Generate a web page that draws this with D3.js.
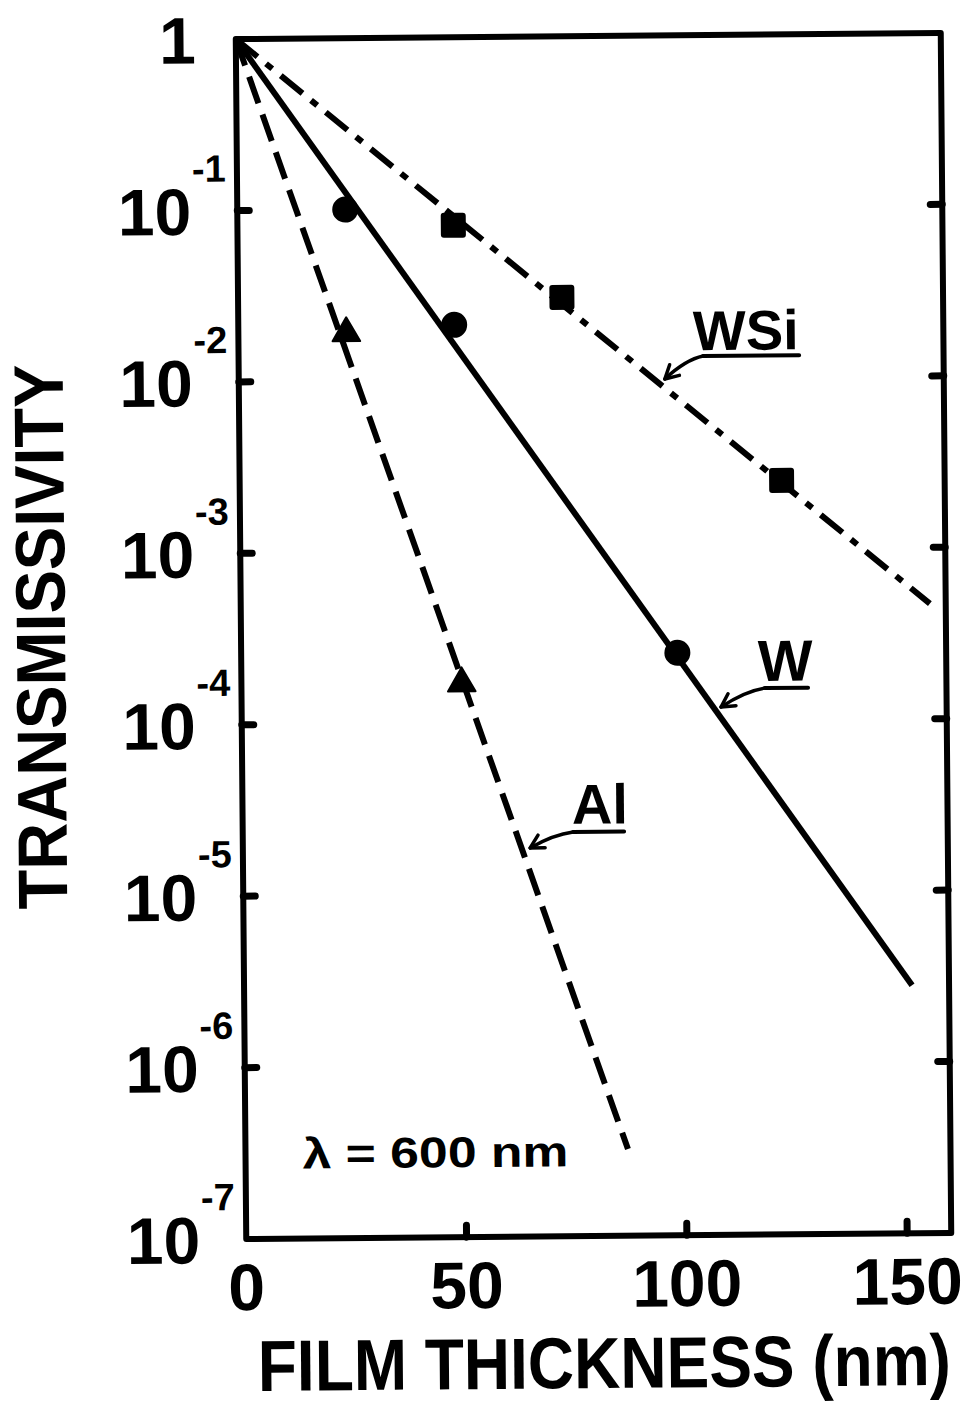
<!DOCTYPE html>
<html lang="en">
<head>
<meta charset="UTF-8">
<title>Transmissivity vs film thickness</title>
<script src="https://d3js.org/d3.v7.min.js"></script>
<style>
  body { margin: 0; background: #fff; }
  svg text { font-family: "Liberation Sans", Arial, sans-serif; font-weight: bold; fill: #000; }
</style>
</head>
<body>
<svg id="chart" width="965" height="1408"></svg>
<script>
// values
const wPoints   = [[24.5, 0.10], [49, 0.021], [99, 2.5e-4]];
const wsiPoints = [[49, 0.080], [73.5, 0.030], [123, 2.5e-3]];
const alPoints  = [[24.5, 0.019], [50, 1.7e-4]];

// fitted lines (start at 1, end where the drawing stops)
const wLine   = [[0, 1], [151.6, 2.8e-6]];
const wsiLine = [[0, 1], [156.4, 4.7e-4]];
const alLine  = [[0, 1], [86.8, 3.2e-7]];

const xTicks = [0, 50, 100, 150];
const xInnerTicks = [50, 100, 150];
const yExponents = [0, -1, -2, -3, -4, -5, -6, -7];

// arrow labels: name, where the arrow points (data units)
const labelNames = ['WSi', 'W', 'Al'];
const labelTipX = [96.7, 108.8, 65.2];
const labelTipY = [9.9e-3, 1.2e-4, 1.85e-5];

const margin = { left: 241, right: 19, top: 36, bottom: 172 };
const width = 965, height = 1408;
const plotW = width - margin.left - margin.right;
const plotH = height - margin.top - margin.bottom;
const STROKE = 6;

const svg = d3.select('#chart');
// the original scan is turned a little, follow it
const root = svg.append('g')
  .attr('transform', `rotate(-0.5, ${margin.left + plotW / 2}, ${margin.top + plotH / 2})`);

const x = d3.scaleLinear().domain([0, 160]).range([margin.left, margin.left + plotW]);
const y = d3.scaleLog().domain([1e-7, 1]).range([margin.top + plotH, margin.top]);

const line = d3.line().x(d => x(d[0])).y(d => y(d[1]));

// frame
root.append('rect')
  .attr('x', x(0)).attr('y', y(1))
  .attr('width', x(160) - x(0)).attr('height', y(1e-7) - y(1))
  .attr('fill', 'none').attr('stroke', '#000')
  .attr('stroke-width', STROKE).attr('stroke-linejoin', 'round');

// inward ticks
const inner = yExponents.filter(e => e < 0 && e > -7);
const tickLen = 12;
root.append('g').selectAll('line')
  .data(inner)
  .enter().append('line')
  .attr('x1', x(0)).attr('x2', x(0) + tickLen)
  .attr('y1', e => y(Math.pow(10, e))).attr('y2', e => y(Math.pow(10, e)))
  .attr('stroke', '#000').attr('stroke-width', 7).attr('stroke-linecap', 'round');
root.append('g').selectAll('line')
  .data(inner)
  .enter().append('line')
  .attr('x1', x(160)).attr('x2', x(160) - tickLen)
  .attr('y1', e => y(Math.pow(10, e))).attr('y2', e => y(Math.pow(10, e)))
  .attr('stroke', '#000').attr('stroke-width', 7).attr('stroke-linecap', 'round');
root.append('g').selectAll('line')
  .data(xInnerTicks)
  .enter().append('line')
  .attr('x1', d => x(d)).attr('x2', d => x(d))
  .attr('y1', y(1e-7)).attr('y2', y(1e-7) - tickLen)
  .attr('stroke', '#000').attr('stroke-width', 7).attr('stroke-linecap', 'round');

// y tick labels (10 with superscript exponent)
const yLab = root.append('g').selectAll('g')
  .data(yExponents)
  .enter().append('g')
  .attr('transform', e => `translate(0,${y(Math.pow(10, e))})`);
yLab.append('text')
  .attr('x', e => e === 0 ? x(0) - 40 : x(0) - 46)
  .attr('y', 24)
  .attr('text-anchor', 'end')
  .style('font-size', '66px')
  .text(e => e === 0 ? '1' : '10');
yLab.filter(e => e !== 0).append('text')
  .attr('x', x(0) - 45)
  .attr('y', -29)
  .style('font-size', '38px')
  .text(e => '-' + Math.abs(e));

// x tick labels
root.append('g').selectAll('text')
  .data(xTicks)
  .enter().append('text')
  .attr('x', d => x(d))
  .attr('y', y(1e-7) + 71)
  .attr('text-anchor', 'middle')
  .style('font-size', '66px')
  .text(d => d);

// axis titles (condensed type: stretch a smaller font vertically)
root.append('text')
  .attr('transform', 'translate(598,1388) scale(1,1.13)')
  .attr('text-anchor', 'middle')
  .style('font-size', '64px')
  .text('FILM THICKNESS (nm)');
root.append('text')
  .attr('transform', 'translate(65,632) rotate(-90)')
  .attr('text-anchor', 'middle')
  .attr('textLength', 545).attr('lengthAdjust', 'spacingAndGlyphs')
  .style('font-size', '70px')
  .text('TRANSMISSIVITY');

root.append('text')
  .attr('x', 298).attr('y', 1166)
  .attr('textLength', 266).attr('lengthAdjust', 'spacingAndGlyphs')
  .style('font-size', '43px')
  .text('\u03bb = 600 nm');

// lines
root.append('path').datum(wLine)
  .attr('d', line).attr('fill', 'none').attr('stroke', '#000')
  .attr('stroke-width', STROKE);
root.append('path').datum(wsiLine)
  .attr('d', line).attr('fill', 'none').attr('stroke', '#000')
  .attr('stroke-width', STROKE).attr('stroke-dasharray', '28,11,8,11');
root.append('path').datum(alLine)
  .attr('d', line).attr('fill', 'none').attr('stroke', '#000')
  .attr('stroke-width', STROKE).attr('stroke-dasharray', '28,12');

// markers
root.append('g').selectAll('circle')
  .data(wPoints)
  .enter().append('circle')
  .attr('cx', d => x(d[0])).attr('cy', d => y(d[1]))
  .attr('r', 13).attr('fill', '#000');
root.append('g').selectAll('rect')
  .data(wsiPoints)
  .enter().append('rect')
  .attr('x', d => x(d[0]) - 12.5).attr('y', d => y(d[1]) - 12.5)
  .attr('width', 25).attr('height', 25).attr('rx', 3)
  .attr('fill', '#000');
root.append('g').selectAll('path')
  .data(alPoints)
  .enter().append('path')
  .attr('transform', d => `translate(${x(d[0])},${y(d[1])})`)
  .attr('d', d3.symbol().type(d3.symbolTriangle).size(330))
  .attr('fill', '#000').attr('stroke', '#000').attr('stroke-width', 2)
  .attr('stroke-linejoin', 'round');

// arrow labels: text offset, underline span, font size (px, relative to tip)
const labelLayout = [
  { tx: 28.5, ty: -28.6, u0: 38.5, u1: 134.5, uy: -22.6, fs: 56 },
  { tx: 37.2, ty: -25.7, u0: 44.2, u1: 87.2, uy: -18.6, fs: 58 },
  { tx: 42.2, ty: -23.7, u0: 43.1, u1: 94.1, uy: -15.5, fs: 56 }
];

const ann = root.append('g').selectAll('g')
  .data(labelNames.map((n, i) => ({ name: n, tx: labelTipX[i], ty: labelTipY[i], lay: labelLayout[i] })))
  .enter().append('g')
  .attr('transform', d => `translate(${x(d.tx)},${y(d.ty)})`);

ann.append('text')
  .attr('x', d => d.lay.tx).attr('y', d => d.lay.ty)
  .style('font-size', d => d.lay.fs + 'px')
  .text(d => d.name);
ann.append('line')
  .attr('x1', d => d.lay.u0).attr('x2', d => d.lay.u1)
  .attr('y1', d => d.lay.uy).attr('y2', d => d.lay.uy)
  .attr('stroke', '#000').attr('stroke-width', 4).attr('stroke-linecap', 'round');
// shaft with slight bend, then open arrowhead
ann.append('path')
  .attr('d', d => {
    const sx = d.lay.u0, sy = d.lay.uy;
    return `M${sx},${sy} Q${sx * 0.55},${sy * 0.85} 0,0`;
  })
  .attr('fill', 'none').attr('stroke', '#000').attr('stroke-width', 3.5).attr('stroke-linecap', 'round');
ann.append('path')
  .attr('d', d => {
    const sx = d.lay.u0 * 0.55, sy = d.lay.uy * 0.85;
    const a = Math.atan2(sy, sx);
    const L = 15, s = 0.5;
    const p1 = [L * Math.cos(a - s), L * Math.sin(a - s)];
    const p2 = [L * Math.cos(a + s), L * Math.sin(a + s)];
    return `M${p1[0]},${p1[1]} L0,0 L${p2[0]},${p2[1]}`;
  })
  .attr('fill', 'none').attr('stroke', '#000').attr('stroke-width', 3.5)
  .attr('stroke-linecap', 'round').attr('stroke-linejoin', 'round');
</script>
</body>
</html>
